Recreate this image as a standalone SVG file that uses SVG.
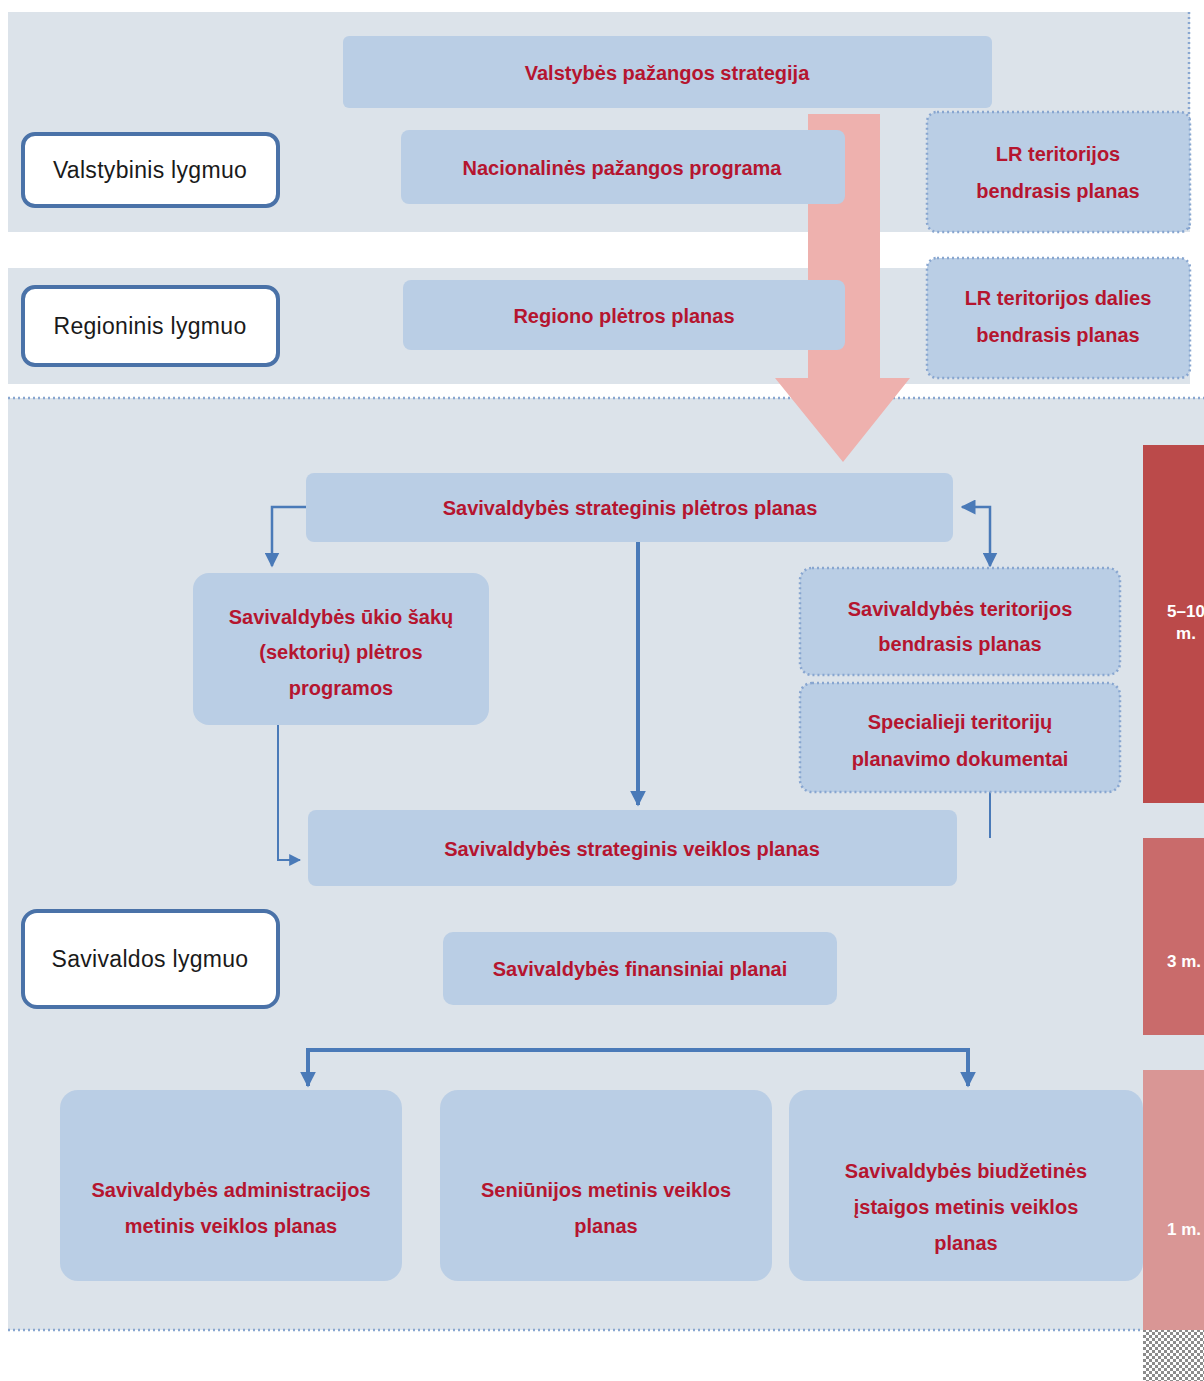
<svg xmlns="http://www.w3.org/2000/svg" width="1204" height="1381" viewBox="0 0 1204 1381">
<defs>
<style>
.band{fill:#dce3ea}
.node{fill:#bacee5}
.dot{stroke:#88a6d0;stroke-width:2.5;stroke-dasharray:2 3}
.lvl{fill:#ffffff;stroke:#4a72a8;stroke-width:4}
.t{font-family:"Liberation Sans",Arial,sans-serif;font-size:20px;font-weight:bold;fill:#b5152f;text-anchor:middle}
.lt{font-family:"Liberation Sans",Arial,sans-serif;font-size:23px;letter-spacing:0.3px;fill:#1a1a1a;text-anchor:middle}
.bt{font-family:"Liberation Sans",Arial,sans-serif;font-size:17px;font-weight:bold;fill:#ffffff;text-anchor:middle}
.c{fill:none;stroke:#4a7ab8}
</style>
<marker id="ah" viewBox="0 0 10 10" refX="9" refY="5" markerWidth="4" markerHeight="4" orient="auto-start-reverse" markerUnits="strokeWidth">
<path d="M0,0 L10,5 L0,10 z" fill="#4a7ab8"/>
</marker>
<marker id="ahs" viewBox="0 0 10 10" refX="9" refY="5" markerWidth="6" markerHeight="6" orient="auto-start-reverse" markerUnits="strokeWidth">
<path d="M0,0 L10,5 L0,10 z" fill="#4a7ab8"/>
</marker>
<pattern id="chk" width="6" height="6" patternUnits="userSpaceOnUse">
<rect width="6" height="6" fill="#ffffff"/>
<rect width="3" height="3" fill="#8c8c8c"/>
<rect x="3" y="3" width="3" height="3" fill="#8c8c8c"/>
</pattern>
</defs>
<rect width="1204" height="1381" fill="#ffffff"/>
<g id="bands">
<rect class="band" x="8" y="12" width="1182" height="220"/>
<rect class="band" x="8" y="268" width="1182" height="116"/>
<rect class="band" x="8" y="398" width="1196" height="932"/>
<line class="dot" x1="8" y1="398" x2="1204" y2="398"/>
<line class="dot" x1="8" y1="1330" x2="1143" y2="1330"/>
<line class="dot" x1="1189" y1="12" x2="1189" y2="232"/>
</g>
<g id="big-arrow">
<path d="M808,114 L880,114 L880,378 L910,378 L843,462 L775,378 L808,378 Z" fill="#eeb1ae"/>
</g>
<g id="time-bars">
<rect x="1143" y="445" width="61" height="358" fill="#bb4a4a"/>
<text class="bt" x="1186" y="617">5–10</text>
<text class="bt" x="1186" y="639">m.</text>
<rect x="1143" y="838" width="61" height="197" fill="#c96b6b"/>
<text class="bt" x="1184" y="967">3 m.</text>
<rect x="1143" y="1070" width="61" height="260" fill="#d99695"/>
<text class="bt" x="1184" y="1235">1 m.</text>
<rect x="1143" y="1330" width="61" height="51" fill="url(#chk)"/>
</g>
<g id="connectors">
<path class="c" stroke-width="2.5" d="M306,507 L272,507 L272,566" marker-end="url(#ahs)"/>
<path class="c" stroke-width="2" d="M278,725 L278,860 L300,860" marker-end="url(#ahs)"/>
<path class="c" stroke-width="4" d="M638,542 L638,805" marker-end="url(#ah)"/>
<path class="c" stroke-width="2.5" d="M962,507 L990,507 L990,566" marker-start="url(#ahs)" marker-end="url(#ahs)"/>
<path class="c" stroke-width="2" d="M990,792 L990,838"/>
<path class="c" stroke-width="4" d="M308,1086 L308,1050 L968,1050 L968,1086" marker-start="url(#ah)" marker-end="url(#ah)"/>
</g>
<g id="n-vps">
<rect class="node" x="343" y="36" width="649" height="72" rx="6"/>
<text class="t" x="667" y="80">Valstybės pažangos strategija</text>
</g>
<g id="n-npp">
<rect class="node" x="401" y="130" width="444" height="74" rx="8"/>
<text class="t" x="622" y="175">Nacionalinės pažangos programa</text>
</g>
<g id="n-lrt">
<rect class="node dot" x="927" y="112" width="263" height="120" rx="10"/>
<text class="t" x="1058" y="161">LR teritorijos</text>
<text class="t" x="1058" y="198">bendrasis planas</text>
</g>
<g id="n-val">
<rect class="lvl" x="23" y="134" width="255" height="72" rx="12"/>
<text class="lt" x="150" y="178">Valstybinis lygmuo</text>
</g>
<g id="n-reg">
<rect class="lvl" x="23" y="287" width="255" height="78" rx="12"/>
<text class="lt" x="150" y="334">Regioninis lygmuo</text>
</g>
<g id="n-rpp">
<rect class="node" x="403" y="280" width="442" height="70" rx="8"/>
<text class="t" x="624" y="323">Regiono plėtros planas</text>
</g>
<g id="n-lrd">
<rect class="node dot" x="927" y="258" width="263" height="120" rx="10"/>
<text class="t" x="1058" y="305">LR teritorijos dalies</text>
<text class="t" x="1058" y="342">bendrasis planas</text>
</g>
<g id="n-sspp">
<rect class="node" x="306" y="473" width="647" height="69" rx="8"/>
<text class="t" x="630" y="515">Savivaldybės strateginis plėtros planas</text>
</g>
<g id="n-uki">
<rect class="node" x="193" y="573" width="296" height="152" rx="16"/>
<text class="t" x="341" y="624">Savivaldybės ūkio šakų</text>
<text class="t" x="341" y="659">(sektorių) plėtros</text>
<text class="t" x="341" y="695">programos</text>
</g>
<g id="n-stbp">
<rect class="node dot" x="800" y="568" width="320" height="107" rx="12"/>
<text class="t" x="960" y="616">Savivaldybės teritorijos</text>
<text class="t" x="960" y="651">bendrasis planas</text>
</g>
<g id="n-spec">
<rect class="node dot" x="800" y="683" width="320" height="109" rx="12"/>
<text class="t" x="960" y="729">Specialieji teritorijų</text>
<text class="t" x="960" y="766">planavimo dokumentai</text>
</g>
<g id="n-ssvp">
<rect class="node" x="308" y="810" width="649" height="76" rx="8"/>
<text class="t" x="632" y="856">Savivaldybės strateginis veiklos planas</text>
</g>
<g id="n-sav">
<rect class="lvl" x="23" y="911" width="255" height="96" rx="14"/>
<text class="lt" x="150" y="967">Savivaldos lygmuo</text>
</g>
<g id="n-fin">
<rect class="node" x="443" y="932" width="394" height="73" rx="10"/>
<text class="t" x="640" y="976">Savivaldybės finansiniai planai</text>
</g>
<g id="n-adm">
<rect class="node" x="60" y="1090" width="342" height="191" rx="18"/>
<text class="t" x="231" y="1197">Savivaldybės administracijos</text>
<text class="t" x="231" y="1233">metinis veiklos planas</text>
</g>
<g id="n-sen">
<rect class="node" x="440" y="1090" width="332" height="191" rx="18"/>
<text class="t" x="606" y="1197">Seniūnijos metinis veiklos</text>
<text class="t" x="606" y="1233">planas</text>
</g>
<g id="n-biu">
<rect class="node" x="789" y="1090" width="354" height="191" rx="18"/>
<text class="t" x="966" y="1178">Savivaldybės biudžetinės</text>
<text class="t" x="966" y="1214">įstaigos metinis  veiklos</text>
<text class="t" x="966" y="1250">planas</text>
</g>
</svg>
